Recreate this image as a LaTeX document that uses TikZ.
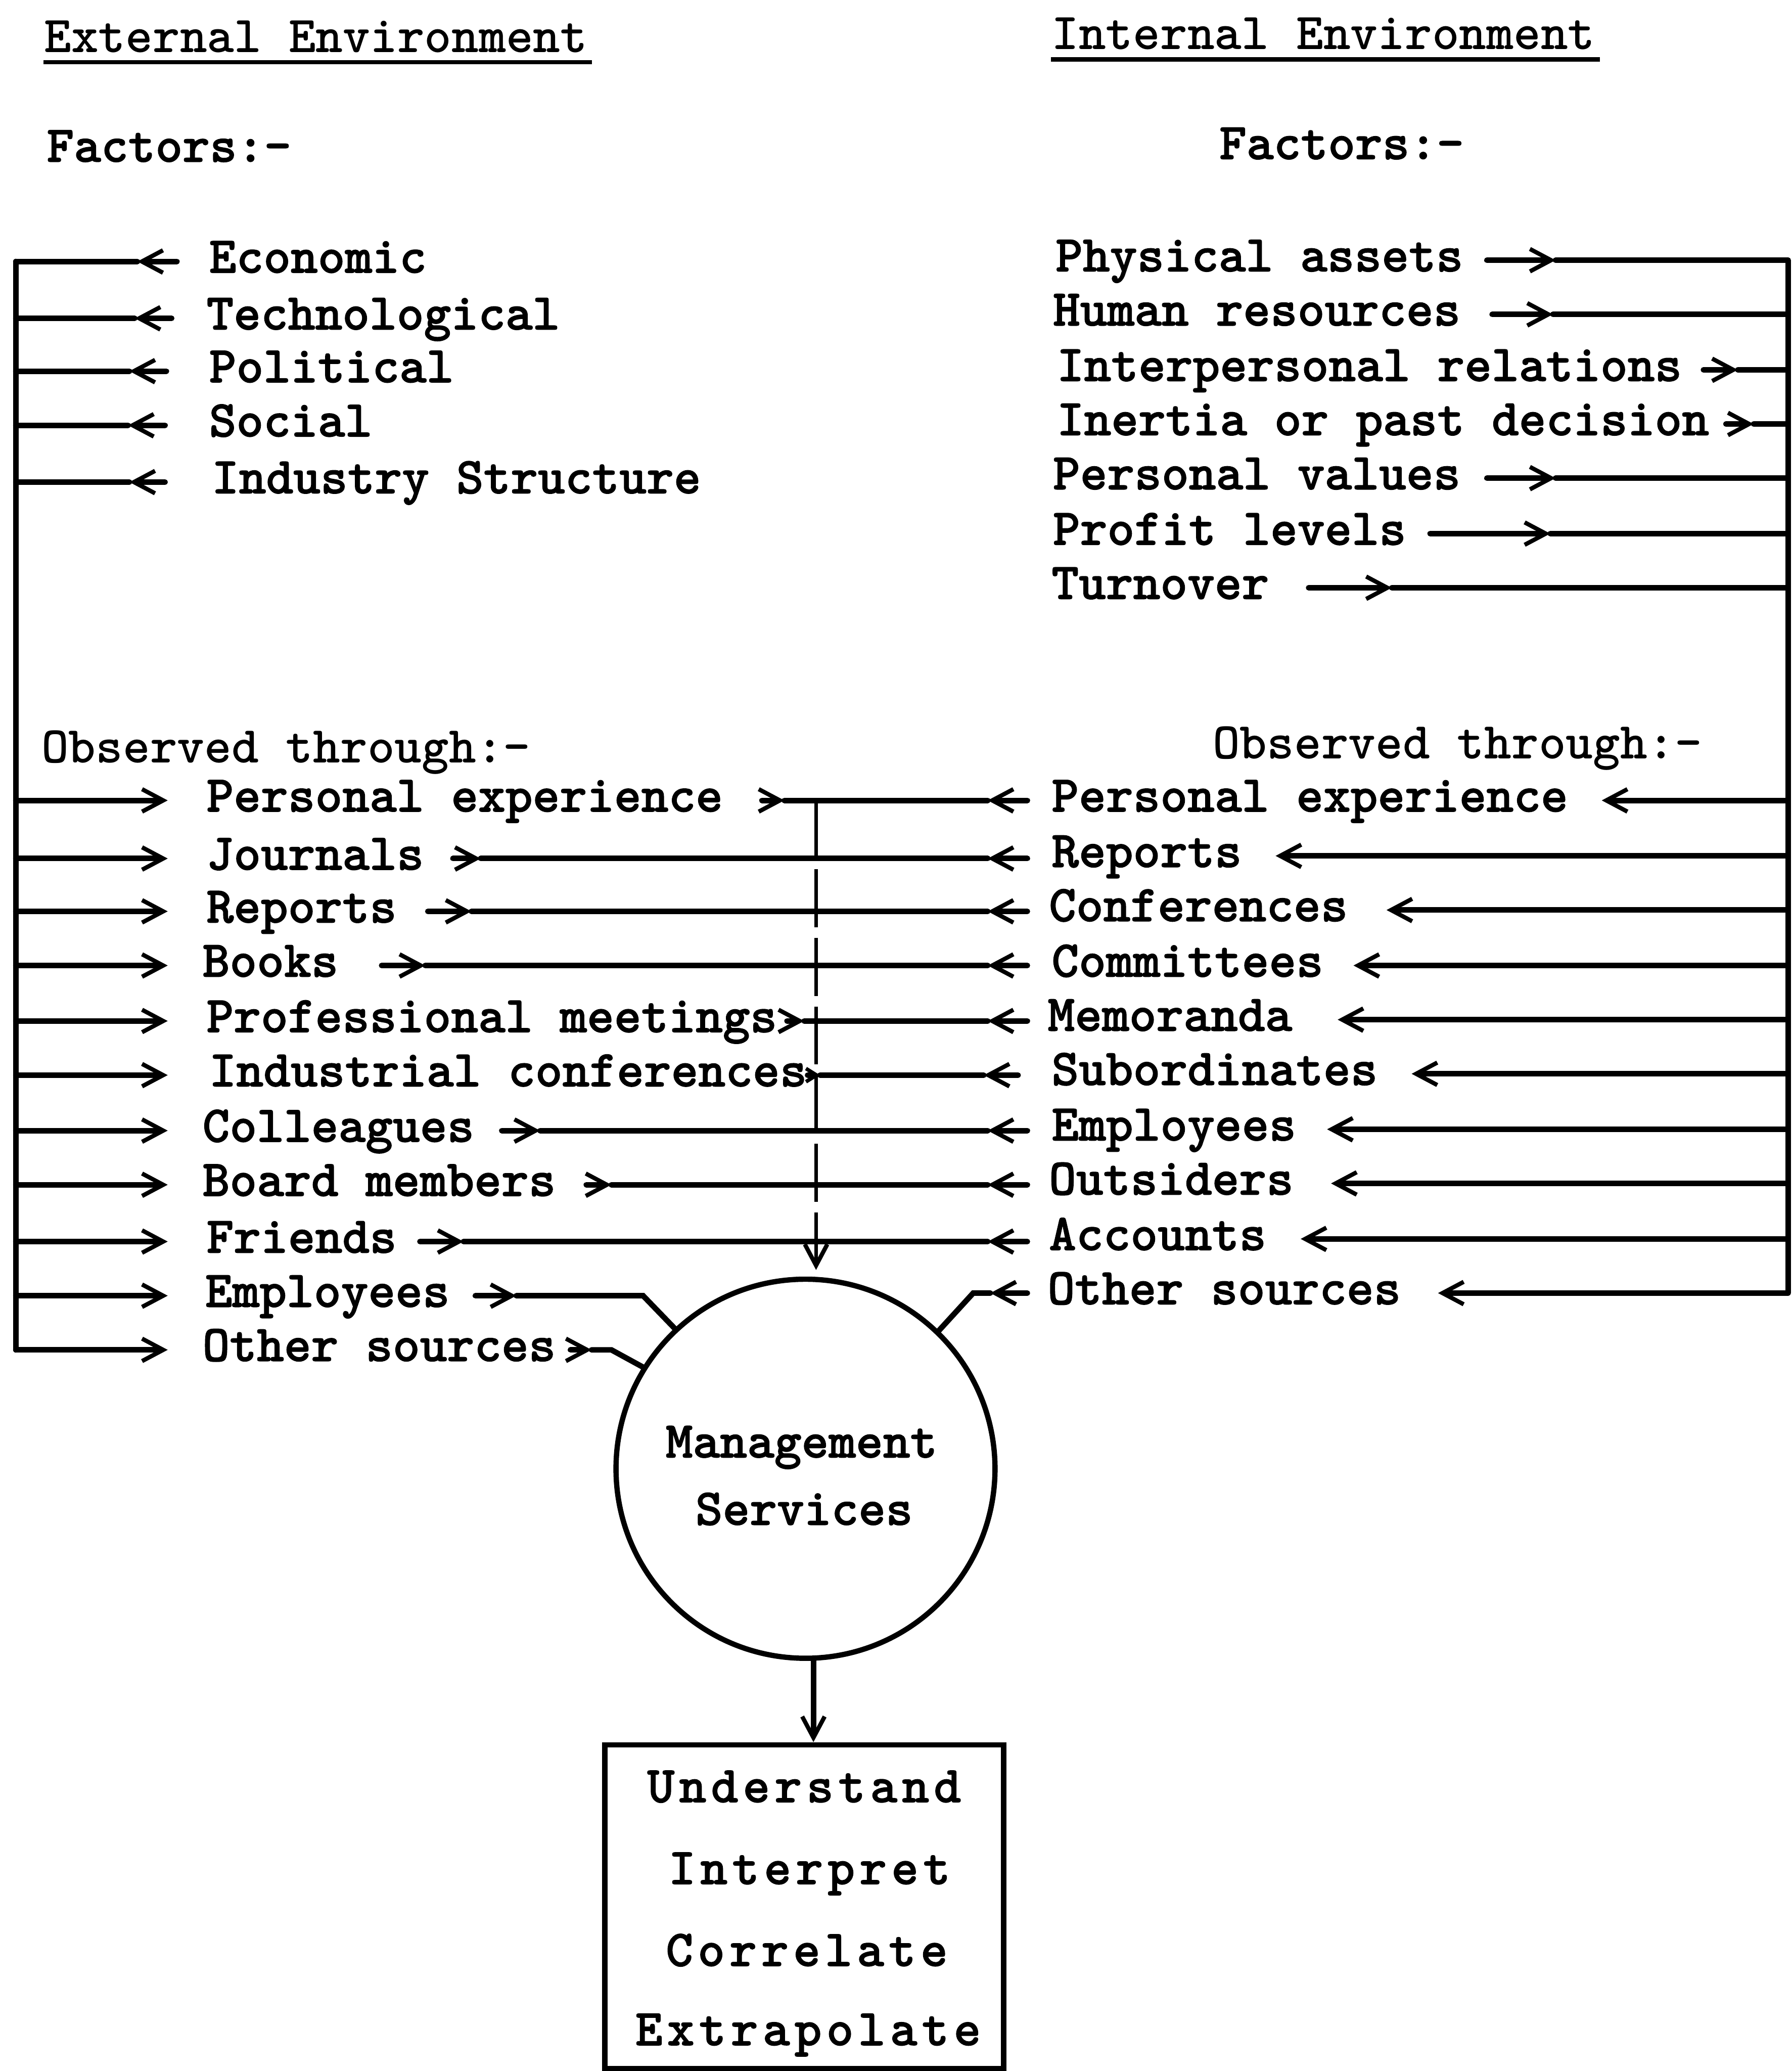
\documentclass[tikz,border=0pt]{standalone}
\usepackage{fontspec}
\usetikzlibrary{arrows.meta,calc}
\newfontfamily\twbold{lmmonolt10-bold.otf}[FakeBold=1.3]
\newfontfamily\twreg{lmmonolt10-bold.otf}
\newfontfamily\twwide{lmmonolt10-bold.otf}[FakeBold=1.3,LetterSpace=9]

\tikzset{
  txt/.style={inner sep=0pt, text height=12pt, text depth=3.5pt},
  lbl/.style={txt, anchor=west, font=\twbold\fontsize{19.6pt}{22pt}\selectfont},
  hdr/.style={txt, anchor=west, font=\twreg\fontsize{19.6pt}{22pt}\selectfont},
  boxtxt/.style={txt, anchor=center, font=\twwide\fontsize{19.6pt}{22pt}\selectfont},
  wire/.style={line width=2.1pt, line cap=round},
  tip/.style={-{Straight Barb[length=8pt,width=8.5pt,line width=1.6pt]}},
  smalltip/.style={-{Straight Barb[length=4pt,width=5pt,line width=1.4pt]}},
  dashwire/.style={line width=1.3pt, dash pattern=on 22pt off 4pt},
}

% a run with an arrowhead part way: start -> tip (arrow), then tip -> end
\newcommand\arrowrun[4]{%
  \draw[wire,tip] (#1.west -| #2,0) -- (#1.west -| #3,0);
  \draw[wire] (#1.west -| #3,0) -- (#1.west -| #4);}

% a cross line between the two columns, arrowheads at both inner ends
\newcommand\crossrow[3]{%
  \draw[wire,tip] (#1.west -| #2,0) -- (#1.west -| #3,0);
  \draw[wire] (#1.west -| #3,0) -- (#1.west -| 748,0);
  \draw[wire,tip] (#1.west -| 778,0) -- (#1.west -| 748,0);}

\begin{document}
\begin{tikzpicture}[x=0.5pt,y=-0.5pt]
\fill[white] (0,0) rectangle (1357,1568);
\useasboundingbox (0,0) rectangle (1357,1568);

\coordinate (lbus) at (12,0);
\coordinate (rbus) at (1354,0);
\coordinate (ctr) at (618,0);

% headings
\node[hdr] (ext) at (33,31) {External Environment};
\node[hdr] (int) at (796,29) {Internal Environment};
\draw[line width=1.6pt] ($(ext.base west)+(0,7.5)$) -- ($(ext.base east)+(3,7.5)$);
\draw[line width=1.6pt] ($(int.base west)+(0,7.5)$) -- ($(int.base east)+(3,7.5)$);
\node[lbl] (fl) at (35,114) {Factors:-};
\node[lbl] (fr) at (923,112) {Factors:-};

% external factors
\node[lbl] (econ) at (158,198) {Economic};
\node[lbl] (tech) at (156,241) {Technological};
\node[lbl] (poli) at (158,281) {Political};
\node[lbl] (soci) at (158,322) {Social};
\node[lbl] (indu) at (160,365) {Industry Structure};

% internal factors
\node[lbl] (phys) at (799,197) {Physical assets};
\node[lbl] (hum)  at (797,238) {Human resources};
\node[lbl] (ipr)  at (800,280) {Interpersonal relations};
\node[lbl] (iner) at (800,321) {Inertia or past decision};
\node[lbl] (pval) at (797,362) {Personal values};
\node[lbl] (prof) at (797,404) {Profit levels};
\node[lbl] (turn) at (796,445) {Turnover};

% observation channels
\node[hdr] (obl) at (31,569) {Observed through:-};
\node[hdr] (obr) at (918,566) {Observed through:-};

\node[lbl] (l1)  at (156,606)  {Personal experience};
\node[lbl] (l2)  at (156,650)  {Journals};
\node[lbl] (l3)  at (156,690)  {Reports};
\node[lbl] (l4)  at (153,731)  {Books};
\node[lbl] (l5)  at (156,773)  {Professional meetings};
\node[lbl] (l6)  at (158,814)  {Industrial conferences};
\node[lbl] (l7)  at (153,856)  {Colleagues};
\node[lbl] (l8)  at (153,897)  {Board members};
\node[lbl] (l9)  at (156,940)  {Friends};
\node[lbl] (l10) at (155,981)  {Employees};
\node[lbl] (l11) at (153,1022) {Other sources};

\node[lbl] (r1)  at (796,606) {Personal experience};
\node[lbl] (r2)  at (796,648) {Reports};
\node[lbl] (r3)  at (794,689) {Conferences};
\node[lbl] (r4)  at (796,731) {Committees};
\node[lbl] (r5)  at (793,772) {Memoranda};
\node[lbl] (r6)  at (796,813) {Subordinates};
\node[lbl] (r7)  at (796,855) {Employees};
\node[lbl] (r8)  at (794,896) {Outsiders};
\node[lbl] (r9)  at (794,938) {Accounts};
\node[lbl] (r10) at (793,979) {Other sources};

% centre
\node[draw, circle, line width=2pt, minimum size=143.5pt, inner sep=0pt] (ms) at (610,1112) {};
\node[lbl, anchor=center] (msa) at (607,1095) {Management};
\node[lbl, anchor=center] (msb) at (609,1146) {Services};

\node[draw, line width=2pt, minimum width=151pt, minimum height=122.5pt, inner sep=0pt] (res) at (609,1443.5) {};
\node[boxtxt] (u1) at (609,1356) {Understand};
\node[boxtxt] (u2) at (613,1418) {Interpret};
\node[boxtxt] (u3) at (611,1480) {Correlate};
\node[boxtxt] (u4) at (612,1540) {Extrapolate};

% buses
\draw[wire] (econ.west -| lbus) -- (l11.west -| lbus);
\draw[wire] (phys.west -| rbus) -- (r10.west -| rbus);

% external factors into the left bus
\arrowrun{econ}{134}{104}{lbus}
\arrowrun{tech}{130}{102}{lbus}
\arrowrun{poli}{126}{98}{lbus}
\arrowrun{soci}{125}{97}{lbus}
\arrowrun{indu}{125}{98}{lbus}

% internal factors into the right bus
\arrowrun{phys}{1126}{1178}{rbus}
\arrowrun{hum}{1130}{1176}{rbus}
\arrowrun{ipr}{1290}{1316}{rbus}
\arrowrun{iner}{1307}{1328}{rbus}
\arrowrun{pval}{1126}{1178}{rbus}
\arrowrun{prof}{1083}{1174}{rbus}
\arrowrun{turn}{991}{1054}{rbus}

% left bus out to the channels
\foreach \n in {l1,l2,l3,l4,l5,l6,l7,l8,l9,l10,l11}
  \draw[wire,tip] (\n.west -| lbus) -- (\n.west -| 127,0);

% right bus out to the channels
\draw[wire,tip] (r1.west -| rbus) -- (r1.west -| 1213,0);
\draw[wire,tip] (r2.west -| rbus) -- (r2.west -| 966,0);
\draw[wire,tip] (r3.west -| rbus) -- (r3.west -| 1050,0);
\draw[wire,tip] (r4.west -| rbus) -- (r4.west -| 1025,0);
\draw[wire,tip] (r5.west -| rbus) -- (r5.west -| 1013,0);
\draw[wire,tip] (r6.west -| rbus) -- (r6.west -| 1069,0);
\draw[wire,tip] (r7.west -| rbus) -- (r7.west -| 1005,0);
\draw[wire,tip] (r8.west -| rbus) -- (r8.west -| 1008,0);
\draw[wire,tip] (r9.west -| rbus) -- (r9.west -| 985,0);
\draw[wire,tip] (r10.west -| rbus) -- (r10.west -| 1089,0);

% channels meeting in the middle
\crossrow{l1}{577}{594}
\crossrow{l2}{343}{364}
\crossrow{l3}{324}{357}
\crossrow{l4}{289}{322}
\crossrow{l5}{596}{609}
\draw[wire,smalltip] (l6.east) -- (l6.west -| 621,0);
\draw[wire] (l6.west -| 621,0) -- (l6.west -| 745,0);
\draw[wire,tip] (l6.west -| 771,0) -- (l6.west -| 745,0);
\crossrow{l7}{380}{409}
\crossrow{l8}{444}{463}
\crossrow{l9}{318}{351}

% collected channels down to management services
\draw[dashwire] (l1.west -| ctr) -- (l9.west -| ctr);
\draw[dashwire,tip,shorten >=2.5pt] (l9.west -| ctr) -- (ms.north -| ctr);

% direct feeds into the circle
\draw[wire,tip] (l10.west -| 360,0) -- (l10.west -| 391,0);
\draw[wire] (l10.west -| 391,0) -- (l10.west -| 487,0) -- (ms.133);
\draw[wire,tip] (l11.west -| 432,0) -- (l11.west -| 448,0);
\draw[wire] (l11.west -| 448,0) -- (l11.west -| 463,0) -- (ms.148);
\draw[wire,tip] (r10.west -| 778,0) -- (r10.west -| 750,0);
\draw[wire] (r10.west -| 750,0) -- (r10.west -| 737,0) -- (ms.46);

% result
\draw[wire,tip] (ms.south -| 616,0) -- (res.north -| 616,0);
\end{tikzpicture}
\end{document}
